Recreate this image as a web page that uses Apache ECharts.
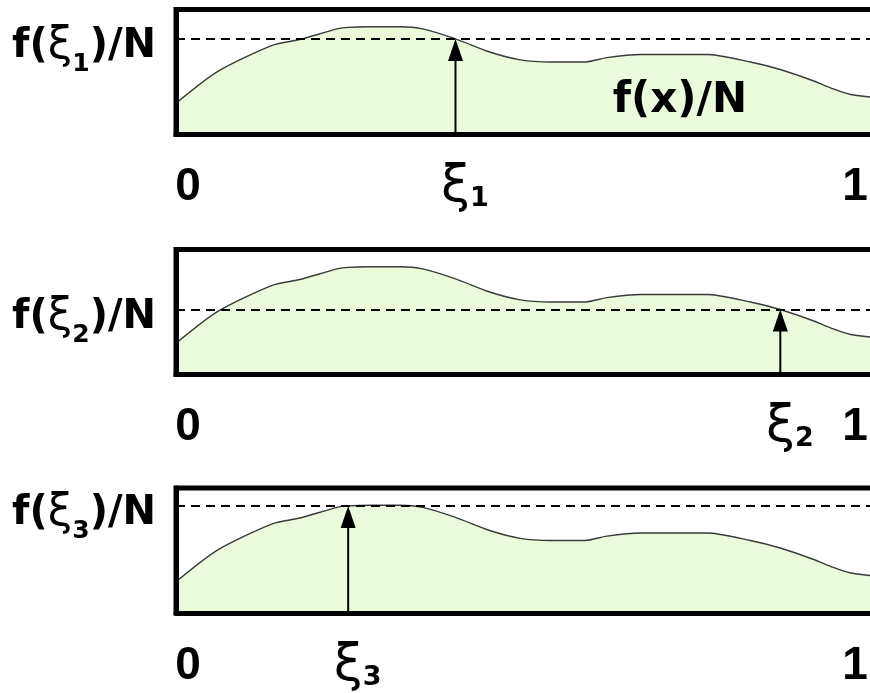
<!DOCTYPE html>
<html>
<head>
<meta charset="utf-8">
<script src="https://cdn.jsdelivr.net/npm/echarts@6/dist/echarts.min.js"></script>
<style>
  html, body { margin: 0; padding: 0; background: #fff; }
  #chart { width: 870px; height: 693px; }
</style>
</head>
<body>
<div id="chart"></div>
<script>
// Normalised density f(x)/N sampled on [0, 1]
const curveX = [0, 0.060, 0.139, 0.178, 0.231, 0.247, 0.278, 0.321, 0.354, 0.401, 0.450, 0.494, 0.537, 0.587, 0.618, 0.666, 0.762, 0.824, 0.867, 0.914, 0.943, 0.968, 0.996, 1];
const curveY = [0.25, 0.505, 0.715, 0.76, 0.845, 0.857, 0.862, 0.862, 0.845, 0.765, 0.66, 0.597, 0.58, 0.58, 0.615, 0.64, 0.64, 0.58, 0.52, 0.43, 0.365, 0.32, 0.30, 0.295];

// Sample points ξ1, ξ2, ξ3 (one per panel) and their subscripts
const xiValues = [0.401, 0.867, 0.247];
const xiSubs = ['1', '2', '3'];

// End labels of the x range and the curve caption
const rangeLabels = ['0', '1'];
const curveCaption = 'f(x)/N';

const FONT = 'DejaVu Sans';
const DIGIT_FONT = 'Liberation Sans';
const panelTops = [9.5, 249.5, 488];
const panelHeight = 125;

// Linear interpolation of the sampled curve
function curveAt(x) {
  for (let i = 1; i < curveX.length; i++) {
    if (x <= curveX[i]) {
      const t = (x - curveX[i - 1]) / (curveX[i] - curveX[i - 1]);
      return curveY[i - 1] + t * (curveY[i] - curveY[i - 1]);
    }
  }
  return curveY[curveY.length - 1];
}

const curveData = curveX.map((x, i) => [x, curveY[i]]);
const levels = xiValues.map(curveAt);

const grids = [], xAxes = [], yAxes = [], series = [];

xiValues.forEach((xi, p) => {
  const sub = xiSubs[p];
  grids.push({
    left: 176, width: 697, top: panelTops[p], height: panelHeight,
    outerBoundsMode: 'none', containLabel: false,
    show: true, borderColor: '#000', borderWidth: 5, backgroundColor: '#fff'
  });

  xAxes.push({
    gridIndex: p, type: 'value', min: 0, max: 1, z: 10,
    axisLine: { show: true, onZero: false, lineStyle: { color: '#000', width: 5 } },
    axisTick: { show: false },
    splitLine: { show: false },
    axisLabel: {
      customValues: [0, xi, 1],
      margin: 28,
      formatter: v => {
        if (v === 0) return '{zero|' + rangeLabels[0] + '}';
        if (v === 1) return '{one|' + rangeLabels[1] + '}';
        return '{xi|ξ}{sub|' + sub + '}';
      },
      rich: {
        zero: { fontFamily: DIGIT_FONT, fontWeight: 'bold', fontSize: 46, color: '#000', lineHeight: 50, padding: [0, 0, 0, 24] },
        one: { fontFamily: DIGIT_FONT, fontWeight: 'bold', fontSize: 46, color: '#000', lineHeight: 50, padding: [0, 36, 0, 0] },
        xi: { fontFamily: FONT, fontSize: 52, color: '#000', lineHeight: 50, padding: [0, 0, 0, 19] },
        sub: { fontFamily: FONT, fontWeight: 'bold', fontSize: 27, color: '#000', lineHeight: 24, verticalAlign: 'bottom' }
      }
    }
  });

  yAxes.push({
    gridIndex: p, type: 'value', min: 0, max: 1, z: 10,
    axisLine: { show: true, lineStyle: { color: '#000', width: 5 } },
    axisTick: { show: false },
    splitLine: { show: false },
    axisLabel: {
      customValues: [levels[p]],
      margin: 20,
      padding: [16, 0, 0, 0],
      formatter: () => '{a|f(}{x|ξ}{s|' + sub + '}{a|)/N}',
      rich: {
        a: { fontFamily: FONT, fontWeight: 'bold', fontSize: 40, color: '#000', lineHeight: 54 },
        x: { fontFamily: FONT, fontSize: 44, color: '#000', lineHeight: 54 },
        s: { fontFamily: FONT, fontWeight: 'bold', fontSize: 25, color: '#000', lineHeight: 22, padding: [36, 0, 0, 0] }
      }
    }
  });

  const lineSeries = {
    type: 'line', xAxisIndex: p, yAxisIndex: p, z: 2,
    data: curveData, symbol: 'none', smooth: 0.25,
    lineStyle: { color: '#3a3a3a', width: 1.4 },
    areaStyle: { color: '#eafada', opacity: 1 },
    markLine: {
      silent: true, symbol: 'none',
      label: { show: false },
      lineStyle: { color: '#000', width: 2, type: [9, 6] },
      data: [{ yAxis: levels[p] }]
    }
  };
  if (p === 0) {
    lineSeries.markPoint = {
      silent: true, symbol: 'circle', symbolSize: 0,
      label: {
        show: true, position: 'inside', formatter: curveCaption,
        fontFamily: FONT, fontWeight: 'bold', fontSize: 42, color: '#000'
      },
      data: [{ coord: [0.723, 0.27] }]
    };
  }
  series.push(lineSeries);

  // Vertical arrow from the axis up to f(ξ)
  series.push({
    type: 'custom', xAxisIndex: p, yAxisIndex: p, z: 5, silent: true,
    data: [[xi, levels[p]]],
    renderItem: (params, api) => {
      const tip = api.coord([api.value(0), api.value(1)]);
      const base = api.coord([api.value(0), 0]);
      const headH = 22, headW = 15;
      return {
        type: 'group',
        children: [
          { type: 'line', shape: { x1: tip[0], y1: tip[1] + headH - 2, x2: base[0], y2: base[1] },
            style: { stroke: '#000', lineWidth: 2 } },
          { type: 'polygon',
            shape: { points: [[tip[0], tip[1]], [tip[0] - headW / 2, tip[1] + headH], [tip[0] + headW / 2, tip[1] + headH]] },
            style: { fill: '#000' } }
        ]
      };
    }
  });
});

const chart = echarts.init(document.getElementById('chart'), null, { renderer: 'canvas' });
chart.setOption({
  animation: false,
  backgroundColor: '#fff',
  grid: grids,
  xAxis: xAxes,
  yAxis: yAxes,
  series: series
});
</script>
</body>
</html>
